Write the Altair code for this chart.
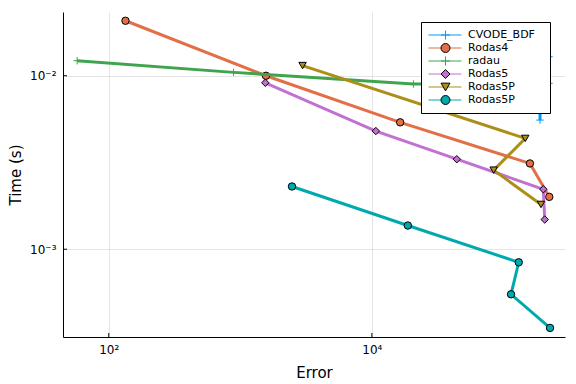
import altair as alt
import pandas as pd

# ---- data (log-log work-precision plot) ----
series_keys = ["CVODE_BDF", "Rodas4", "radau", "Rodas5", "Rodas5P", "Rodas5P#2"]
series_colors = ["#009AFA", "#E26F46", "#3EA44E", "#C271D2", "#AC8E18", "#00A9AD"]
PLUS = "M-1,0L1,0M0,-1L0,1"
marker_shapes = [PLUS, "circle", PLUS, "diamond", "triangle-down", "circle"]
marker_strokes = ["#009AFA", "#000000", "#3EA44E", "#000000", "#000000", "#000000"]

cvode_err = [79100, 222000, 189700, 189700]
cvode_time = [0.01503, 0.01288, 0.00827, 0.00555]
rodas4_err = [134, 1567, 16400, 159000, 223000]
rodas4_time = [0.02075, 0.0100, 0.00539, 0.003123, 0.002004]
radau_err = [57.5, 889, 20700, 222000]
radau_time = [0.01221, 0.01046, 0.00896, 0.00904]
rodas5_err = [1549, 10720, 44200, 201000, 205900]
rodas5_time = [0.00911, 0.0048, 0.003304, 0.002218, 0.001484]
rodas5p_err = [2972, 146500, 84300, 193000]
rodas5p_time = [0.01145, 0.004354, 0.002857, 0.001812]
rodas5p2_err = [2470, 18760, 130700, 114200, 226000]
rodas5p2_time = [0.002301, 0.00137, 0.000841, 0.00055, 0.000352]

x_ticks = [100, 10000]
y_ticks = [0.01, 0.001]
x_domain = [44.9, 293700]
y_domain = [0.000312, 0.02331]

all_err = [cvode_err, rodas4_err, radau_err, rodas5_err, rodas5p_err, rodas5p2_err]
all_time = [cvode_time, rodas4_time, radau_time, rodas5_time, rodas5p_time, rodas5p2_time]

rows = []
for key, errs, times in zip(series_keys, all_err, all_time):
    for i, (e, t) in enumerate(zip(errs, times)):
        rows.append({"err": e, "time": t, "sid": key, "la": "A:" + key, "lb": "B:" + key, "i": i})
df = pd.DataFrame(rows)

FONT = "DejaVu Sans"
PAD = "\u2800"  # blank glyph: widens the legend box to the reference's width
label_expr = "replace(replace(datum.label, 'A:', ''), '#2', '') + '" + PAD + "'"

xscale = alt.Scale(type="log", domain=x_domain, nice=False)
yscale = alt.Scale(type="log", domain=y_domain, nice=False)

x_axis = alt.Axis(values=x_ticks, labelExpr="datum.value < 1000 ? '10²' : '10⁴'",
                  title="Error", grid=True, gridColor="#000000", gridOpacity=0.1,
                  ticks=False, domainColor="#000000", domainWidth=1,
                  labelFont=FONT, labelFontSize=12, labelColor="#000000", labelPadding=7,
                  titleFont=FONT, titleFontSize=15, titleFontWeight="normal",
                  titleColor="#000000", titlePadding=10)
y_axis = alt.Axis(values=y_ticks, labelExpr="datum.value > 0.005 ? '10⁻²' : '10⁻³'",
                  title="Time (s)", grid=True, gridColor="#000000", gridOpacity=0.1,
                  ticks=False, domainColor="#000000", domainWidth=1,
                  labelFont=FONT, labelFontSize=12, labelColor="#000000", labelPadding=7,
                  titleFont=FONT, titleFontSize=15, titleFontWeight="normal",
                  titleColor="#000000", titlePadding=6)

legend_line = alt.Legend(orient="none", legendX=358, legendY=10, title=None, columns=1,
                         symbolType="M-3,0L3,0", symbolSize=121, symbolStrokeWidth=1,
                         symbolOffset=11, clipHeight=12,
                         fillColor="white", strokeColor="black", padding=7, rowPadding=1,
                         labelFont=FONT, labelFontSize=11, labelColor="#000000",
                         labelOffset=17, labelExpr=label_expr)
legend_pts = alt.Legend(orient="none", legendX=370, legendY=10, title=None, columns=1,
                        symbolSize=80, symbolStrokeWidth=1, clipHeight=12,
                        padding=7, rowPadding=1,
                        labelFont=FONT, labelFontSize=11, labelOpacity=0,
                        labelOffset=5, labelExpr="''")

base = alt.Chart(df)
layers = []
for key in series_keys:
    line = base.transform_filter(alt.datum.sid == key).mark_line(strokeWidth=3).encode(
        x=alt.X("err:Q", scale=xscale, axis=x_axis),
        y=alt.Y("time:Q", scale=yscale, axis=y_axis),
        color=alt.Color("la:N", scale=alt.Scale(domain=["A:" + k for k in series_keys], range=series_colors),
                        legend=legend_line),
        order=alt.Order("i:Q"),
    )
    pts = base.transform_filter(alt.datum.sid == key).mark_point(size=55, strokeWidth=1, opacity=1).encode(
        x=alt.X("err:Q", scale=xscale, axis=x_axis),
        y=alt.Y("time:Q", scale=yscale, axis=y_axis),
        fill=alt.Fill("lb:N", scale=alt.Scale(domain=["B:" + k for k in series_keys], range=series_colors),
                      legend=legend_pts),
        stroke=alt.Stroke("lb:N", scale=alt.Scale(domain=["B:" + k for k in series_keys], range=marker_strokes),
                          legend=legend_pts),
        shape=alt.Shape("lb:N", scale=alt.Scale(domain=["B:" + k for k in series_keys], range=marker_shapes),
                        legend=legend_pts),
    )
    layers += [line, pts]

# inward-pointing axis ticks, placed through the shared scales
xt = alt.Chart(pd.DataFrame({"v": x_ticks})).mark_rule(color="#000000", strokeWidth=1).encode(
    x=alt.X("v:Q", scale=xscale, axis=x_axis), y=alt.value(325), y2=alt.value(321))
yt = alt.Chart(pd.DataFrame({"v": y_ticks})).mark_rule(color="#000000", strokeWidth=1).encode(
    y=alt.Y("v:Q", scale=yscale, axis=y_axis), x=alt.value(0), x2=alt.value(4))

chart = alt.layer(*layers, xt, yt).properties(
    width=502, height=325,
    autosize=alt.AutoSizeParams(type="none"),
    padding={"left": 55, "top": 4, "right": 2, "bottom": 44},
    background="white",
).configure_view(stroke=None)

chart.save("out.html", embed_options={"renderer": "svg", "actions": False})
